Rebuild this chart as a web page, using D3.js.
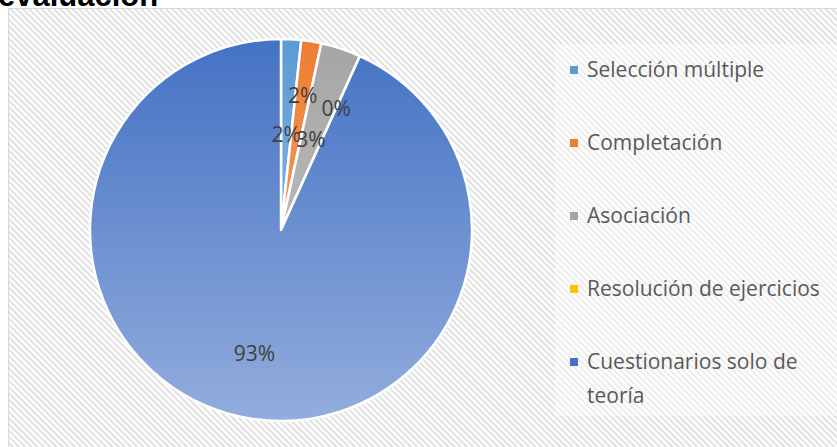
<!DOCTYPE html>
<html>
<head>
<meta charset="utf-8">
<script src="https://cdn.jsdelivr.net/npm/d3@7"></script>
<style>
  body { margin: 0; background: #fff; overflow: hidden; }
  svg { display: block; }
</style>
</head>
<body>
<svg></svg>
<script>
let categories = ['Selección múltiple', 'Completación', 'Asociación', 'Resolución de ejercicios', 'Cuestionarios solo de teoría']
let counts = [1, 1, 2, 0, 55]
let percentLabels = ['2%', '2%', '3%', '0%', '93%']
let colors = ['#5B9BD5', '#ED7D31', '#A5A5A5', '#FFC000', '#4472C4']
let chartTitle = 'evaluación'

let width = 837
let height = 447
let cx = 281
let cy = 230
let radius = 191

let data = categories.map((c, i) => ({ name: c, value: counts[i], label: percentLabels[i], color: colors[i] }))

let svg = d3.select('svg')
    .attr('width', width)
    .attr('height', height)

let defs = svg.append('defs')

// diagonal hatch used by the chart area
let hatch = defs.append('pattern')
    .attr('id', 'hatch')
    .attr('patternUnits', 'userSpaceOnUse')
    .attr('width', 4.4)
    .attr('height', 4.4)
    .attr('patternTransform', 'rotate(-45)')
hatch.append('rect')
    .attr('width', 4.4)
    .attr('height', 4.4)
    .attr('fill', '#ffffff')
hatch.append('rect')
    .attr('width', 2)
    .attr('height', 4.4)
    .attr('fill', '#e0e0e0')

// one vertical gradient per slice colour (in the pie's local coordinates)
data.forEach((d, i) => {
  let g = defs.append('linearGradient')
      .attr('id', 'grad' + i)
      .attr('gradientUnits', 'userSpaceOnUse')
      .attr('x1', 0).attr('x2', 0)
      .attr('y1', -radius).attr('y2', radius)
  g.append('stop').attr('offset', '0%').attr('stop-color', d.color)
  g.append('stop').attr('offset', '100%').attr('stop-color', d3.interpolateRgb(d.color, '#ffffff')(0.42))
})

svg.append('text')
    .attr('x', -2)
    .attr('y', 6)
    .style('font-family', 'Liberation Sans, Arial, sans-serif')
    .style('font-weight', 'bold')
    .style('font-size', '31px')
    .attr('fill', '#000')
    .text(chartTitle)

svg.append('rect')
    .attr('x', 8.5)
    .attr('y', 8.5)
    .attr('width', width)
    .attr('height', height)
    .attr('fill', 'url(#hatch)')
    .attr('stroke', '#d9d9d9')
    .attr('stroke-width', 1)

let pie = d3.pie()
    .value(d => d.value)
    .sort(null)

let arc = d3.arc()
    .innerRadius(0)
    .outerRadius(radius)

let arcs = pie(data)

let pieG = svg.append('g')
    .attr('transform', `translate(${cx}, ${cy})`)

pieG.selectAll('path')
  .data(arcs)
  .enter()
  .append('path')
    .attr('d', arc)
    .attr('fill', (d, i) => `url(#grad${i})`)
    .attr('stroke', '#fff')
    .attr('stroke-width', 2.5)
    .attr('stroke-linejoin', 'round')

// label radius alternates so the small slices do not collide
let labelFactor = [0.5, 0.71, 0.5, 0.7, 0.66]
let labelArc = i => d3.arc().innerRadius(radius * labelFactor[i]).outerRadius(radius * labelFactor[i])

pieG.selectAll('text')
  .data(arcs)
  .enter()
  .append('text')
    .attr('x', (d, i) => labelArc(i).centroid(d)[0])
    .attr('y', (d, i) => labelArc(i).centroid(d)[1])
    .attr('dy', '0.35em')
    .attr('text-anchor', 'middle')
    .style('font-family', 'Open Sans, sans-serif')
    .style('font-size', '21px')
    .attr('fill', '#404040')
    .text(d => d.data.label)

// legend
let legendG = svg.append('g')

legendG.append('rect')
    .attr('x', 555)
    .attr('y', 44)
    .attr('width', 290)
    .attr('height', 372)
    .attr('fill', '#ffffff')
    .attr('fill-opacity', 0.4)

let legendY = d3.scalePoint()
    .domain(categories)
    .range([70, 362])

let rows = legendG.selectAll('g.row')
  .data(data)
  .enter()
  .append('g')
    .attr('class', 'row')
    .attr('transform', d => `translate(570, ${legendY(d.name)})`)

rows.append('rect')
    .attr('x', 0)
    .attr('y', -4)
    .attr('width', 8)
    .attr('height', 8)
    .attr('fill', d => d.color)

rows.append('text')
    .attr('x', 17)
    .attr('dy', '0.35em')
    .style('font-family', 'Open Sans, sans-serif')
    .style('font-size', '21px')
    .attr('fill', '#595959')
    .each(function (d) {
      let t = d3.select(this)
      let words = d.name.split(' ')
      if (d.name.length > 24) {
        t.append('tspan').attr('x', 17).text(words.slice(0, 3).join(' '))
        t.append('tspan').attr('x', 17).attr('dy', '1.62em').text(words.slice(3).join(' '))
      } else {
        t.text(d.name)
      }
    })
</script>
</body>
</html>
